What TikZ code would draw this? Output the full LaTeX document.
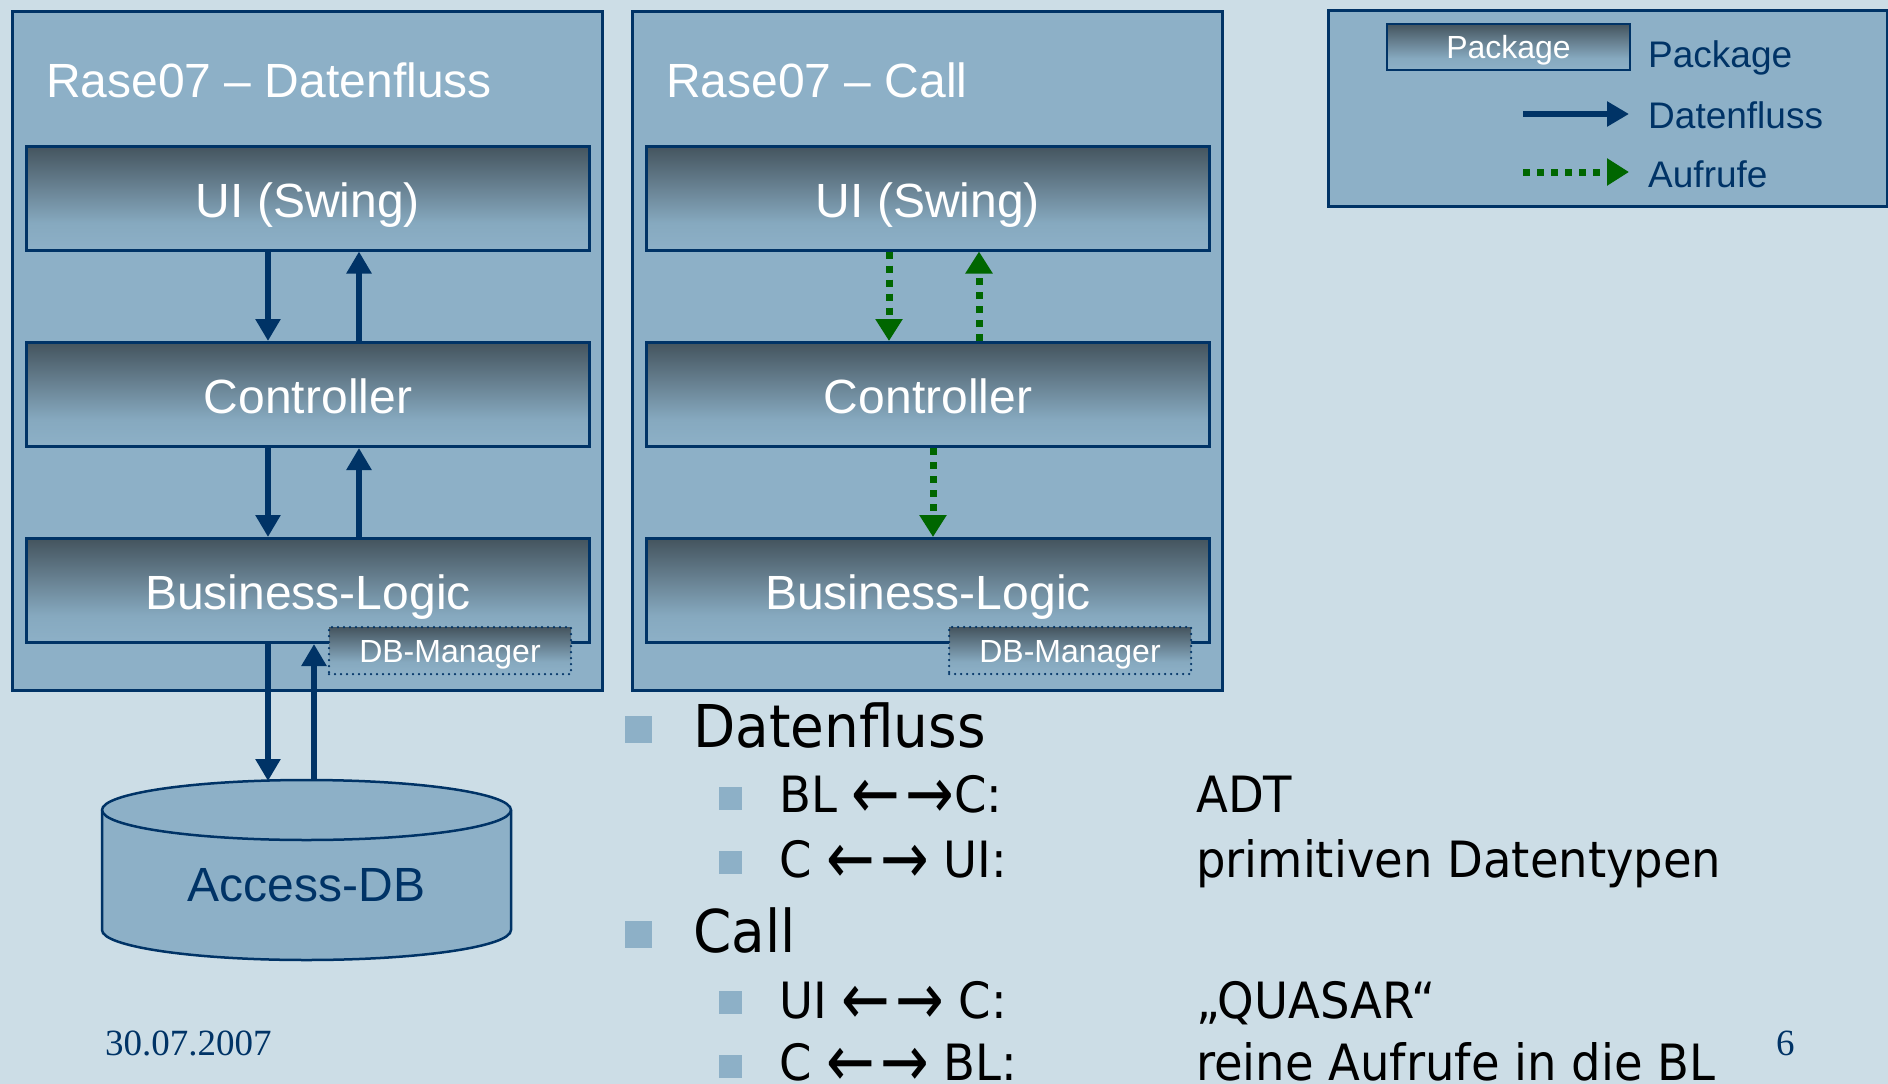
\documentclass[tikz,border=0pt]{standalone}
\usepackage{fontspec}
\setmainfont{Liberation Sans}
\newfontfamily\bulletfont[FakeStretch=0.93]{DejaVu Sans}
\newfontfamily\footfont{Liberation Serif}
\usetikzlibrary{arrows.meta}

\definecolor{bg}{HTML}{CCDDE6}
\definecolor{panel}{HTML}{8DB0C7}
\definecolor{panellow}{HTML}{86A9BF}
\definecolor{navy}{HTML}{003366}
\definecolor{slate}{HTML}{44545E}
\definecolor{callgreen}{HTML}{006600}

% package boxes: dark at the top, fading into the panel colour
% (TikZ maps the middle 25bp--75bp of a shading onto the path)
\pgfdeclareverticalshading{pkgshade}{100bp}{color(0bp)=(panel); color(25bp)=(panel); color(38bp)=(panellow); color(55bp)=(slate!50!panel); color(75bp)=(slate); color(100bp)=(slate)}

% the double arrow used in the bullet list
\newcommand\duoarrows{\raisebox{-0.12em}{\scalebox{1.25}[1.45]{←}}\hspace{0.1em}\raisebox{-0.12em}{\scalebox{1.25}[1.45]{→}}}

\begin{document}
\begin{tikzpicture}[x=1pt,y=-1pt,
  panelbox/.style={draw=navy, line width=2.5pt, fill=panel, inner sep=0pt, anchor=north west},
  paneltitle/.style={text=white, font=\fontsize{48}{58}\selectfont, inner sep=0pt, anchor=base west},
  pkg/.style={draw=navy, line width=3pt, shading=pkgshade, text=white,
    font=\fontsize{48}{58}\selectfont, minimum width=563pt, minimum height=104pt,
    inner sep=0pt, text height=42pt, text depth=4pt},
  dbmgr/.style={draw=navy, line width=2.5pt, line cap=round, dash pattern=on 0pt off 6pt,
    shading=pkgshade, text=white, font=\fontsize{32}{38}\selectfont,
    minimum width=242pt, minimum height=47pt, inner sep=0pt, text height=26pt, text depth=2pt},
  flow/.style={navy, line width=6pt, -{Triangle[length=22pt,width=24pt]}},
  callarrow/.style={callgreen, line width=7pt, dash pattern=on 7pt off 7pt, -{Triangle[length=22pt,width=26pt]}},
  legendtext/.style={text=navy, font=\fontsize{37}{44}\selectfont, inner sep=0pt, anchor=base west},
  bigbullet/.style={fill=panel, minimum size=27pt, inner sep=0pt},
  smallbullet/.style={fill=panel, minimum size=23pt, inner sep=0pt},
  itemA/.style={font=\bulletfont\fontsize{59}{66}\selectfont, inner sep=0pt, anchor=base west},
  itemB/.style={font=\bulletfont\fontsize{50}{58}\selectfont, inner sep=0pt, anchor=base west},
  foot/.style={text=navy, font=\footfont\fontsize{37}{44}\selectfont, inner sep=0pt, anchor=base west}
]
\useasboundingbox (0,0) rectangle (1888,1084);
\fill[bg] (0,0) rectangle (1888,1084);

% ---------------- left panel: data flow ----------------
\node[panelbox, minimum width=590pt, minimum height=679pt] (lpanel) at (11,10) {};
\node[paneltitle] (ltitle) at (46,97) {Rase07 – Datenfluss};
\node[pkg] (ui1) at (308,198) {UI (Swing)};
\node[pkg] (ctl1) at (308,394.5) {Controller};
\node[pkg] (bl1) at (308,590.5) {Business-Logic};
\node[dbmgr] (dbm1) at (450,650.5) {DB-Manager};

\draw[flow] ([xshift=-40pt]ui1.south) -- ([xshift=-40pt]ctl1.north);
\draw[flow] ([xshift=51pt]ctl1.north) -- ([xshift=51pt]ui1.south);
\draw[flow] ([xshift=-40pt]ctl1.south) -- ([xshift=-40pt]bl1.north);
\draw[flow] ([xshift=51pt]bl1.north) -- ([xshift=51pt]ctl1.south);

% database cylinder
\filldraw[fill=panel, draw=navy, line width=2.5pt]
  (102,810) -- (102,930) arc[start angle=180, end angle=360, x radius=204.5pt, y radius=30pt]
  -- (511,810) arc[start angle=0, end angle=180, x radius=204.5pt, y radius=30pt] -- cycle;
\draw[navy, line width=2.5pt] (102,810) arc[start angle=180, end angle=360, x radius=204.5pt, y radius=30pt];
\node[text=navy, font=\fontsize{48}{58}\selectfont, inner sep=0pt] (db) at (306.5,885) {Access-DB};
\coordinate (dbin) at (268,781);
\coordinate (dbout) at (314,780);

\draw[flow] ([xshift=-40pt]bl1.south) -- (dbin);
\draw[flow] (dbout) -- ([xshift=6pt]bl1.south);

% ---------------- right panel: calls ----------------
\node[panelbox, minimum width=590pt, minimum height=679pt] (rpanel) at (631,10) {};
\node[paneltitle] (rtitle) at (666,97) {Rase07 – Call};
\node[pkg] (ui2) at (928,198) {UI (Swing)};
\node[pkg] (ctl2) at (928,394.5) {Controller};
\node[pkg] (bl2) at (928,590.5) {Business-Logic};
\node[dbmgr] (dbm2) at (1070,650.5) {DB-Manager};

\draw[callarrow] ([xshift=-39pt]ui2.south) -- ([xshift=-39pt]ctl2.north);
\draw[callarrow] ([xshift=51pt]ctl2.north) -- ([xshift=51pt]ui2.south);
\draw[callarrow] ([xshift=5pt]ctl2.south) -- ([xshift=5pt]bl2.north);

% ---------------- legend ----------------
\node[panelbox, minimum width=559pt, minimum height=196pt] (legend) at (1327,9) {};
\node[draw=navy, line width=2.5pt, shading=pkgshade, text=white, font=\fontsize{32}{38}\selectfont,
  minimum width=243pt, minimum height=46pt, inner sep=0pt, text height=24pt, text depth=2pt] (lgpkg) at (1508.5,47) {Package};
\node[legendtext] (lgpkgtext) at (1648,67) {Package};
\coordinate (lgflowA) at (1523,114);
\coordinate (lgflowB) at (1629,114);
\draw[flow] (lgflowA) -- (lgflowB);
\node[legendtext] (lgflowtext) at (1648,128) {Datenfluss};
\coordinate (lgcallA) at (1523,172);
\coordinate (lgcallB) at (1629,172);
\draw[callarrow] (lgcallA) -- (lgcallB);
\node[legendtext] (lgcalltext) at (1648,187) {Aufrufe};

% ---------------- bullet list ----------------
\node[bigbullet] (b1) at (638,729) {};
\node[itemA] (t1) at (693,747) {Datenfluss};
\node[smallbullet] (b11) at (730.5,798) {};
\node[itemB] (t11) at (779,812) {BL \duoarrows C:};
\node[itemB] (v11) at (1196,812) {ADT};
\node[smallbullet] (b12) at (730.5,862) {};
\node[itemB] (t12) at (779,877) {C \duoarrows{} UI:};
\node[itemB] (v12) at (1196,877) {primitiven Datentypen};

\node[bigbullet] (b2) at (638,934) {};
\node[itemA] (t2) at (693,952) {Call};
\node[smallbullet] (b21) at (730.5,1002) {};
\node[itemB] (t21) at (779,1018) {UI \duoarrows{} C:};
\node[itemB] (v21) at (1196,1018) {„QUASAR“};
\node[smallbullet] (b22) at (730.5,1066) {};
\node[itemB] (t22) at (779,1080) {C \duoarrows{} BL:};
\node[itemB] (v22) at (1196,1080) {reine Aufrufe in die BL};

% ---------------- footer ----------------
\node[foot] (date) at (105,1055) {30.07.2007};
\node[foot] (page) at (1776,1055) {6};
\end{tikzpicture}
\end{document}
